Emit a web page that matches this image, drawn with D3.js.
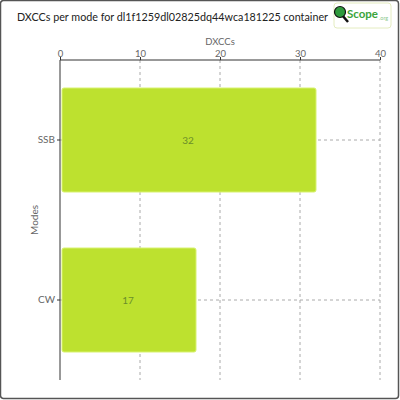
<!DOCTYPE html>
<html><head><meta charset="utf-8">
<script src="https://cdn.jsdelivr.net/npm/d3@7"></script>
<style>body{margin:0;background:#fff}svg{display:block}</style>
</head><body>
<svg id="c" width="400" height="400"></svg>
<script>
const categories = ["SSB", "CW"];
const values = [32, 17];
const xTicks = [0, 10, 20, 30, 40];
const title = "DXCCs per mode for dl1f1259dl02825dq44wca181225 container";
const xTitle = "DXCCs";
const yTitle = "Modes";

const svg = d3.select("#c");
const font = "Lato, 'Open Sans', sans-serif";
const m = {l: 60, r: 20, t: 60, b: 20};
const W = 400, H = 400;

svg.append("rect").attr("x", 0.5).attr("y", 0.5).attr("width", 398).attr("height", 398)
  .attr("rx", 3).attr("fill", "#fff").attr("stroke", "#555").attr("stroke-width", 1.5);

const t = svg.append("text").attr("x", 17).attr("y", 21).attr("font-family", font).attr("font-size", 12)
  .attr("fill", "#222").text(title);
// shrink font until natural width fits before the logo
let fs = 12;
while (t.node().getComputedTextLength() > 312 && fs > 8) { fs -= 0.25; t.attr("font-size", fs); }

// logo
const lg = svg.append("g").attr("transform", "translate(334,3)");
lg.append("rect").attr("width", 57).attr("height", 25).attr("rx", 3).attr("fill", "#fff").attr("stroke", "#e4ecc0");
lg.append("line").attr("x1", 8).attr("y1", 12).attr("x2", 14).attr("y2", 19).attr("stroke", "#111").attr("stroke-width", 2.5);
lg.append("circle").attr("cx", 6).attr("cy", 9).attr("r", 5.5).attr("fill", "#2e9a3c").attr("stroke", "#111").attr("stroke-width", 1.2);
lg.append("text").attr("x", 13).attr("y", 15).attr("font-family", font).attr("font-weight", "bold").attr("font-size", 11.5)
  .attr("fill", "#3aa43a").text("Scope");
lg.append("text").attr("x", 45).attr("y", 17).attr("font-family", font).attr("font-size", 5.5).attr("fill", "#8cc88c").text(".org");

const x = d3.scaleLinear().domain([0, 40]).range([m.l, W - m.r]);
const y = d3.scaleBand().domain(categories).range([m.t, H - m.b]).paddingInner(0.35).paddingOuter(0.175);

const dash = "3,3";
svg.append("g").selectAll("line").data(xTicks.slice(1)).join("line")
  .attr("x1", d => x(d)).attr("x2", d => x(d)).attr("y1", m.t).attr("y2", H - m.b)
  .attr("stroke", "#aaa").attr("stroke-dasharray", dash);
svg.append("g").selectAll("line").data(categories).join("line")
  .attr("x1", m.l).attr("x2", W - m.r).attr("y1", d => y(d) + y.bandwidth() / 2).attr("y2", d => y(d) + y.bandwidth() / 2)
  .attr("stroke", "#aaa").attr("stroke-dasharray", dash);

svg.append("g").selectAll("rect").data(categories).join("rect")
  .attr("x", x(0) + 2).attr("y", d => y(d))
  .attr("width", (d, i) => x(values[i]) - x(0) - 2).attr("height", y.bandwidth())
  .attr("rx", 2).attr("fill", "#bde12f").attr("stroke", "#d8f270").attr("stroke-width", 1);

svg.append("g").selectAll("text").data(categories).join("text")
  .attr("x", (d, i) => (x(0) + x(values[i])) / 2).attr("y", d => y(d) + y.bandwidth() / 2)
  .attr("dy", "0.35em").attr("text-anchor", "middle").attr("font-family", font).attr("font-size", 10)
  .attr("fill", "#6b8f2a").text((d, i) => values[i]);

const xa = svg.append("g").attr("transform", `translate(0,${m.t})`)
  .call(d3.axisTop(x).tickValues(xTicks).tickSize(3).tickPadding(0));
const ya = svg.append("g").attr("transform", `translate(${m.l},0)`)
  .call(d3.axisLeft(y).tickSize(3).tickPadding(2));
[xa, ya].forEach(a => {
  a.select(".domain").attr("stroke", "#333");
  a.selectAll(".tick line").attr("stroke", "#333");
  a.selectAll(".tick text").attr("font-family", font).attr("font-size", 10).attr("fill", "#666");
});
xa.selectAll(".tick text").attr("font-size", 9.5);
xa.select(".domain").attr("d", `M${m.l},0H${W - m.r}`);
ya.select(".domain").attr("d", `M0,${m.t}V${H - m.b}`);

svg.append("text").attr("x", (m.l + W - m.r) / 2).attr("y", 45).attr("text-anchor", "middle")
  .attr("font-family", font).attr("font-size", 9.5).attr("fill", "#666").text(xTitle);
svg.append("text").attr("transform", `translate(38,${(m.t + H - m.b) / 2}) rotate(-90)`).attr("text-anchor", "middle")
  .attr("font-family", font).attr("font-size", 10).attr("fill", "#666").text(yTitle);
</script>
</body></html>
